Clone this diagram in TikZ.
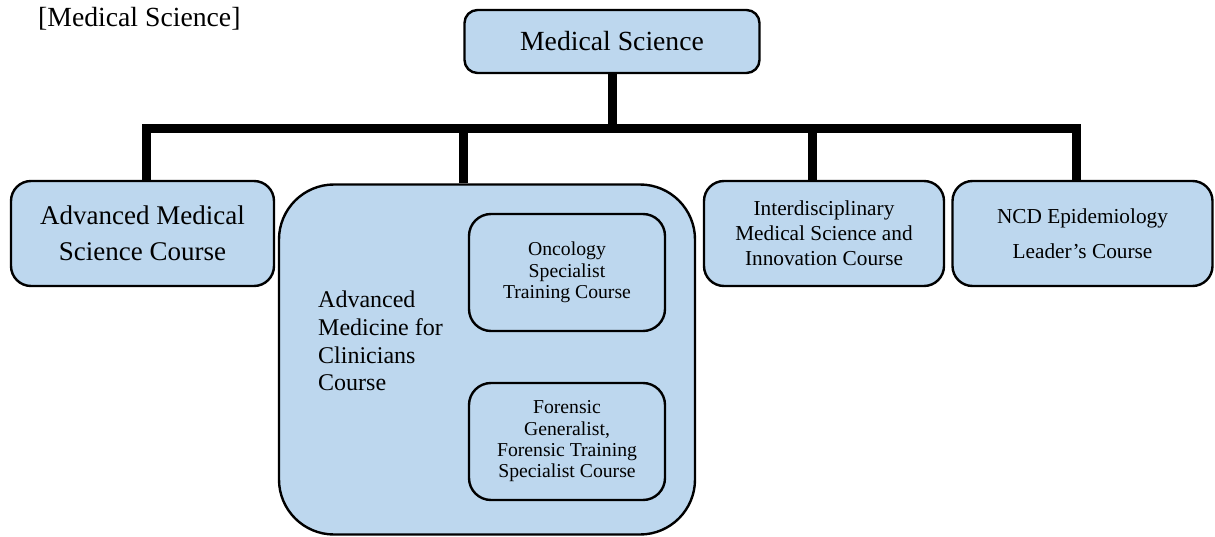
\documentclass[tikz,border=0pt]{standalone}
\usepackage{fontspec}
\setmainfont{Liberation Serif}[Renderer=OpenType]
\definecolor{boxblue}{RGB}{189,215,238}

\begin{document}
\begin{tikzpicture}[x=1pt,y=-1pt,
  course/.style={draw,fill=boxblue,line width=2.4pt,rounded corners=20pt,
    align=center,inner sep=0pt},
  link/.style={line width=9pt,line join=miter}]
  \useasboundingbox (0,0) rectangle (1215,537);
  \node[anchor=base west,inner sep=0pt,font=\fontsize{27.7}{32}\selectfont]
    (title) at (38,27) {[Medical Science]};
  % top of the tree
  \node[course,rounded corners=13pt,minimum width=295pt,minimum height=63pt,
    font=\fontsize{27.7}{32}\selectfont] (med) at (612,41.5) {Medical Science};
  % first level
  \node[course,minimum width=263pt,minimum height=105pt,
    font=\fontsize{27}{36}\selectfont] (ams) at (142.5,233.5)
    {Advanced Medical\\Science Course};
  \node[course,rounded corners=55pt,minimum width=416pt,minimum height=350pt]
    (amc) at (487,359.5) {};
  \node[anchor=north west,inner sep=0pt,align=left,
    font=\fontsize{24}{27.6}\selectfont] (amctext) at (318,291)
    {Advanced\\Medicine for\\Clinicians\\Course};
  \node[course,rounded corners=22pt,minimum width=196pt,minimum height=117pt,
    font=\fontsize{19.7}{21.3}\selectfont] (onc) at (567,272.5)
    {Oncology\\Specialist\\Training Course};
  \node[course,rounded corners=22pt,minimum width=196pt,minimum height=117pt,
    font=\fontsize{19.7}{21.3}\selectfont] (for) at (567,441.5)
    {Forensic\\Generalist,\\Forensic Training\\Specialist Course};
  \node[course,minimum width=240pt,minimum height=105pt,
    font=\fontsize{21.3}{25}\selectfont] (ims) at (824,233.5)
    {Interdisciplinary\\Medical Science and\\Innovation Course};
  \node[course,minimum width=260pt,minimum height=105pt,
    font=\fontsize{21.3}{35}\selectfont] (ncd) at (1082.5,233.5)
    {NCD Epidemiology\\Leader’s Course};
  % connectors
  \coordinate (d1) at (146.5,128.5);
  \coordinate (d2) at (463,128.5);
  \coordinate (d3) at (812,128.5);
  \coordinate (d4) at (1076.5,128.5);
  \draw[link] (med.south) -- (med.south |- d1);
  \draw[link] (d1 |- ams.north) -- (d1) -- (d4) -- (d4 |- ncd.north);
  \draw[link] (d2) -- (d2 |- amc.north);
  \draw[link] (d3) -- (d3 |- ims.north);
\end{tikzpicture}
\end{document}
